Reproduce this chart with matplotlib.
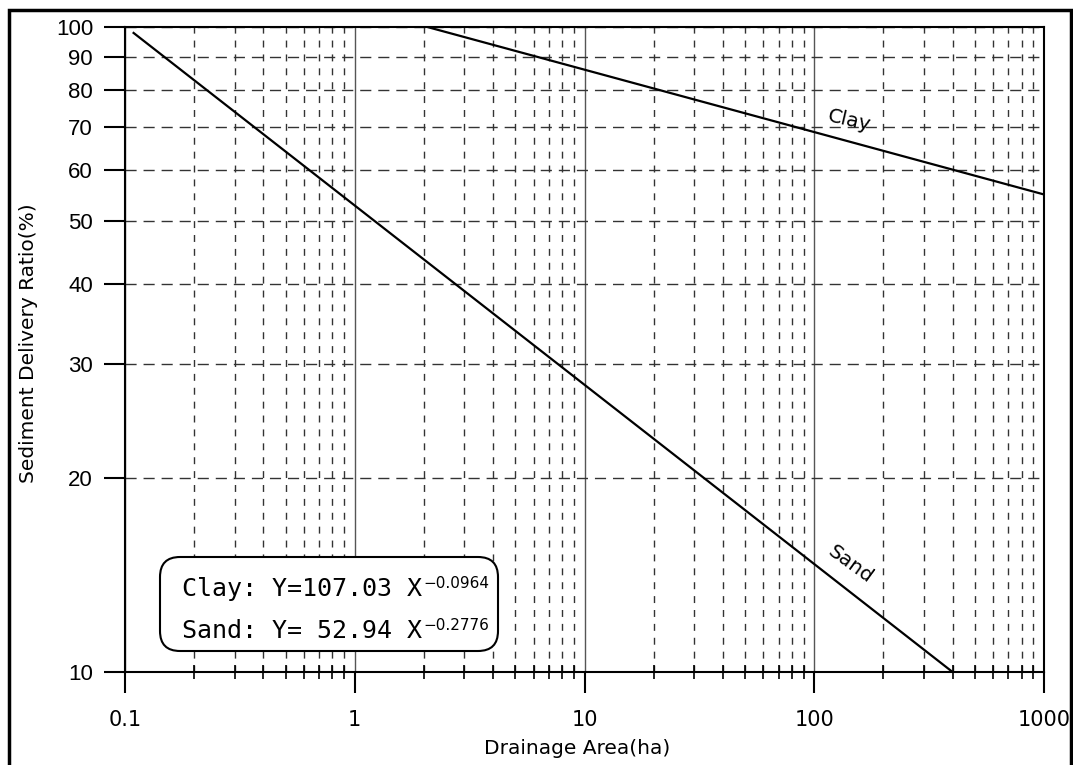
import matplotlib.pyplot as plt
from matplotlib.patches import FancyBboxPatch, Rectangle
from matplotlib.ticker import FixedLocator, LogLocator, NullFormatter, FixedFormatter

# 읽어낸 값 (log-log 직선이므로 양 끝점만)
clay_x = [2.07, 1000]
clay_y = [100, 55.0]
sand_x = [0.109, 400]
sand_y = [97.9, 10.0]

x_ticks = [0.1, 1, 10, 100, 1000]
x_labels = ["0.1", "1", "10", "100", "1000"]
y_ticks = [10, 20, 30, 40, 50, 60, 70, 80, 90, 100]

eq_lines = ["Clay: Y=107.03 X", "Sand: Y= 52.94 X"]
eq_powers = ["\u22120.0964", "\u22120.2776"]

W, H = 1073, 765
fig = plt.figure(figsize=(W / 100, H / 100), dpi=100, facecolor="white")
ax = fig.add_axes([125 / W, 1 - 672 / H, (1044 - 125) / W, (672 - 27) / H])

ax.plot(clay_x, clay_y, color="black", lw=1.6, zorder=5)
ax.plot(sand_x, sand_y, color="black", lw=1.6, zorder=5)

ax.set_xscale("log")
ax.set_yscale("log")
ax.set_xlim(0.1, 1000)
ax.set_ylim(10, 100)

ax.xaxis.set_major_locator(FixedLocator(x_ticks))
ax.xaxis.set_major_formatter(FixedFormatter(x_labels))
ax.xaxis.set_minor_locator(LogLocator(base=10, subs=range(2, 10)))
ax.xaxis.set_minor_formatter(NullFormatter())
ax.yaxis.set_major_locator(FixedLocator(y_ticks))
ax.yaxis.set_major_formatter(FixedFormatter([str(v) for v in y_ticks]))
ax.yaxis.set_minor_locator(FixedLocator([]))

# 격자
ax.grid(True, which="major", axis="x", color="#555555", lw=1.0, ls="-")
ax.grid(True, which="minor", axis="x", color="#333333", lw=1.0, ls=(0, (5, 5)))
ax.grid(True, which="major", axis="y", color="#333333", lw=1.0, ls=(0, (8, 5)))

for s in ax.spines.values():
    s.set_linewidth(1.5)
    s.set_color("black")

ax.tick_params(axis="x", which="major", direction="out", length=15, width=1.5, pad=12,
               labelsize=15)
ax.tick_params(axis="x", which="minor", direction="inout", length=10, width=1.2)
ax.tick_params(axis="y", which="major", direction="out", length=15, width=1.5, pad=8,
               labelsize=16)
for lab in ax.get_xticklabels():
    lab.set_fontfamily("DejaVu Sans")
for lab in ax.get_yticklabels():
    lab.set_fontfamily("Liberation Sans")

ax.set_xlabel("Drainage Area(ha)", fontsize=14.5, family="DejaVu Sans")
ax.set_ylabel("Sediment Delivery Ratio(%)", fontsize=14.5, family="DejaVu Sans")
ax.xaxis.set_label_coords(0.492, -0.104)
ax.yaxis.set_label_coords(-0.095, 0.51)

# 곡선 라벨 (픽셀 좌표, 위쪽 기준)
ax.text(849, H - 121, "Clay", transform=None, fontsize=14.5, rotation=-13,
        ha="center", va="center")
ax.text(850, H - 565, "Sand", transform=None, fontsize=14.5, rotation=-36,
        ha="center", va="center")

# 수식 박스 (픽셀 -> 인치)
tr = fig.dpi_scale_trans
box = FancyBboxPatch((160 / 100, (H - 651) / 100), 338 / 100, 94 / 100,
                     boxstyle="round,pad=0,rounding_size=0.2", transform=tr,
                     facecolor="white", edgecolor="black", lw=1.5, zorder=10, clip_on=False)
ax.add_patch(box)
for i, (t, p) in enumerate(zip(eq_lines, eq_powers)):
    yb = (H - 596 - i * 42) / 100
    main = ax.text(182 / 100, yb, t, transform=tr, fontsize=18, family="DejaVu Sans Mono",
                   ha="left", va="baseline", zorder=11, clip_on=False)
    ax.annotate(p, xy=(1, 0), xycoords=main, xytext=(1, 9), textcoords="offset points",
                fontsize=11, family="DejaVu Sans", ha="left", va="baseline",
                zorder=11, annotation_clip=False)

# 바깥 테두리
fig.patches.append(Rectangle((0.085, -0.05), 10.62, 7.6, transform=tr, fill=False,
                             edgecolor="black", lw=2.5))

fig.savefig("out.png", dpi=100, facecolor="white")
